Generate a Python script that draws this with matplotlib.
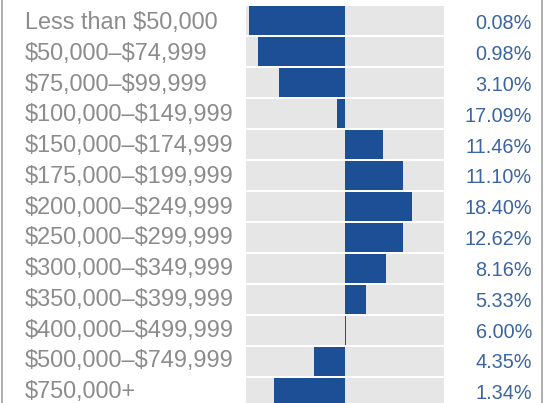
import matplotlib
matplotlib.use("Agg")
import matplotlib.pyplot as plt

plt.rcParams["text.parse_math"] = False

categories = [
    "Less than $50,000", "$50,000–$74,999", "$75,000–$99,999",
    "$100,000–$149,999", "$150,000–$174,999", "$175,000–$199,999",
    "$200,000–$249,999", "$250,000–$299,999", "$300,000–$349,999",
    "$350,000–$399,999", "$400,000–$499,999", "$500,000–$749,999",
    "$750,000+",
]
shares = ["0.08%", "0.98%", "3.10%", "17.09%", "11.46%", "11.10%",
          "18.40%", "12.62%", "8.16%", "5.33%", "6.00%", "4.35%", "1.34%"]
# relative difference (bar length, arbitrary units, axis spans -99..99)
deviation = [-96, -87, -66, -8, 38, 58, 67, 58, 41, 21, 0.9, -31, -71]
axis_limit = 99

W, H = 544, 403
fig = plt.figure(figsize=(W / 100, H / 100), dpi=100)
fig.patch.set_facecolor("white")

pitch = 31.0
top_px = 5.0
n_visible = (H - top_px) / pitch
ax = fig.add_axes([246 / W, 0, 198 / W, (H - top_px) / H])
ax.set_xlim(-axis_limit, axis_limit)
ax.set_ylim(-0.5 + n_visible, -0.5)
ax.axis("off")

idx = list(range(len(categories)))
bar_h = 29 / 31
ax.barh(idx, [2 * axis_limit] * len(idx), left=-axis_limit, height=bar_h,
        color="#e6e6e6", zorder=1)
ax.barh(idx, deviation, height=bar_h, color="#1c4f96", zorder=2)

n = len(categories)
for i, (lab, sh) in enumerate(zip(categories, shares)):
    lab_base = 29.3 + (398.0 - 29.3) / (n - 1) * i
    pct_base = 29.3 + (399.3 - 29.3) / (n - 1) * i
    fig.text(25 / W, 1 - lab_base / H, lab,
             ha="left", va="baseline", fontsize=16.9, color="#8c8c8c",
             family="Liberation Sans")
    fig.text(532 / W, 1 - pct_base / H, sh,
             ha="right", va="baseline", fontsize=14.3, color="#3a64a2",
             family="Liberation Sans")

# side border lines
fig.add_artist(plt.Line2D([1.5 / W, 1.5 / W], [0, 1], color="#a0a0a0", lw=1.2))
fig.add_artist(plt.Line2D([541.5 / W, 541.5 / W], [0, 1], color="#a0a0a0", lw=1.2))

fig.savefig("out.png", dpi=100)
